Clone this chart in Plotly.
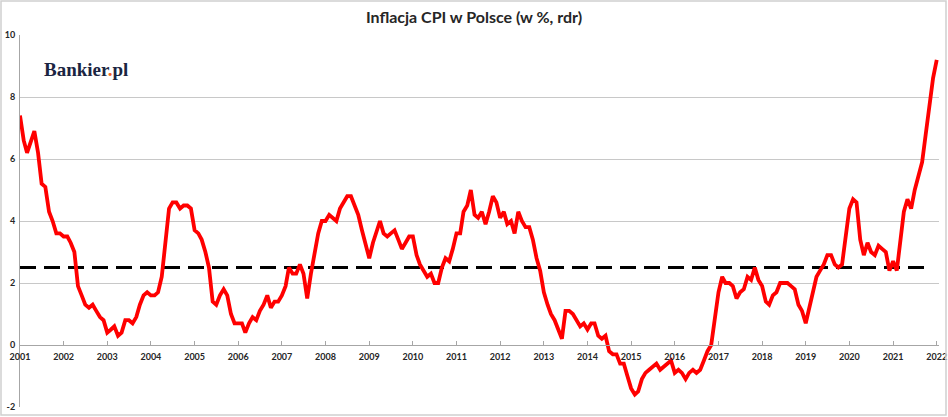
import pandas as pd
import plotly.graph_objects as go

title = "Inflacja CPI w Polsce (w %, rdr)"
start_month = "2001-01-01"

# CPI r/r, miesiecznie od stycznia 2001
cpi = [
    7.4, 6.6, 6.2, 6.6, 6.9, 6.2, 5.2, 5.1, 4.3, 4.0, 3.6, 3.6,      # 2001
    3.5, 3.5, 3.3, 3.0, 1.9, 1.6, 1.3, 1.2, 1.3, 1.1, 0.9, 0.8,      # 2002
    0.4, 0.5, 0.6, 0.3, 0.4, 0.8, 0.8, 0.7, 0.9, 1.3, 1.6, 1.7,      # 2003
    1.6, 1.6, 1.7, 2.2, 3.4, 4.4, 4.6, 4.6, 4.4, 4.5, 4.5, 4.4,      # 2004
    3.7, 3.6, 3.4, 3.0, 2.5, 1.4, 1.3, 1.6, 1.8, 1.6, 1.0, 0.7,      # 2005
    0.7, 0.7, 0.4, 0.7, 0.9, 0.8, 1.1, 1.3, 1.6, 1.2, 1.4, 1.4,      # 2006
    1.6, 1.9, 2.5, 2.3, 2.3, 2.6, 2.3, 1.5, 2.3, 3.0, 3.6, 4.0,      # 2007
    4.0, 4.2, 4.1, 4.0, 4.4, 4.6, 4.8, 4.8, 4.5, 4.2, 3.7, 3.3,      # 2008
    2.8, 3.3, 3.6, 4.0, 3.6, 3.5, 3.6, 3.7, 3.4, 3.1, 3.3, 3.5,      # 2009
    3.5, 2.9, 2.6, 2.4, 2.2, 2.3, 2.0, 2.0, 2.5, 2.8, 2.7, 3.1,      # 2010
    3.6, 3.6, 4.3, 4.5, 5.0, 4.2, 4.1, 4.3, 3.9, 4.3, 4.8, 4.6,      # 2011
    4.1, 4.3, 3.9, 4.0, 3.6, 4.3, 4.0, 3.8, 3.8, 3.4, 2.8, 2.4,      # 2012
    1.7, 1.3, 1.0, 0.8, 0.5, 0.2, 1.1, 1.1, 1.0, 0.8, 0.6, 0.7,      # 2013
    0.5, 0.7, 0.7, 0.3, 0.2, 0.3, -0.2, -0.3, -0.3, -0.6, -0.6, -1.0,  # 2014
    -1.4, -1.6, -1.5, -1.1, -0.9, -0.8, -0.7, -0.6, -0.8, -0.7, -0.6, -0.5,  # 2015
    -0.9, -0.8, -0.9, -1.1, -0.9, -0.8, -0.9, -0.8, -0.5, -0.2, 0.0, 0.8,  # 2016
    1.7, 2.2, 2.0, 2.0, 1.9, 1.5, 1.7, 1.8, 2.2, 2.1, 2.5, 2.1,      # 2017
    1.9, 1.4, 1.3, 1.6, 1.7, 2.0, 2.0, 2.0, 1.9, 1.8, 1.3, 1.1,      # 2018
    0.7, 1.2, 1.7, 2.2, 2.4, 2.6, 2.9, 2.9, 2.6, 2.5, 2.6, 3.4,      # 2019
    4.4, 4.7, 4.6, 3.4, 2.9, 3.3, 3.0, 2.9, 3.2, 3.1, 3.0, 2.4,      # 2020
    2.7, 2.4, 3.2, 4.3, 4.7, 4.4, 5.0, 5.5, 5.9, 6.8, 7.8, 8.6,      # 2021
    9.2,                                                             # 2022
]

# cel inflacyjny NBP
target = 2.5
target_end = "2021-10-01"

y_ticks = [-2, 0, 2, 4, 6, 8, 10]
y_labels = [str(v) for v in y_ticks]  # zwykly minus jak w Excelu

months = pd.date_range(start_month, periods=len(cpi), freq="MS")
target_months = pd.date_range(start_month, target_end, freq="MS")

fig = go.Figure()
fig.add_trace(go.Scatter(
    x=target_months, y=[target] * len(target_months), mode="lines",
    line=dict(color="black", width=3, dash="16px,8px"),
    hoverinfo="skip",
))
fig.add_trace(go.Scatter(
    x=months, y=cpi, mode="lines",
    line=dict(color="#ff0000", width=3.8),
))

tick_font = dict(family="Lato", size=9, color="#262626", weight="bold")

fig.update_layout(
    width=948, height=417,
    margin=dict(l=20, r=9, t=35, b=10),
    paper_bgcolor="white", plot_bgcolor="white",
    showlegend=False,
    title=dict(text=title, x=0.5, xanchor="center", y=0.958, yanchor="middle",
               font=dict(family="Lato", size=16, color="#262626", weight="bold")),
    xaxis=dict(
        type="date", range=["2001-01-01", "2022-01-20"],
        dtick="M12", tick0="2001-01-01", tickformat="%Y",
        anchor="free", position=1 / 6, automargin=False,
        showline=True, linecolor="#a6a6a6", linewidth=1,
        ticks="inside", ticklen=4, tickcolor="#a6a6a6",
        ticklabelstandoff=3,
        showgrid=False, tickfont=tick_font,
    ),
    yaxis=dict(
        range=[-2, 10], tickvals=y_ticks, ticktext=y_labels,
        automargin=False,
        showgrid=True, gridcolor="#c8c8c8", gridwidth=1,
        zeroline=False, showline=True, linecolor="#a6a6a6",
        ticks="", tickfont=tick_font, ticklabelstandoff=2,
    ),
    annotations=[dict(
        text="Bankier<span style='color:#f26522'>.</span>pl",
        xref="paper", yref="paper", x=(42 - 20) / 919, y=(407 - 69) / 372,
        xanchor="left", yanchor="middle", showarrow=False,
        font=dict(family="Liberation Serif", size=19, color="#1b2542", weight="bold"),
    )],
    shapes=[dict(
        type="rect", xref="paper", yref="paper",
        x0=(1 - 20) / 919, x1=(946 - 20) / 919,
        y0=(407 - 415) / 372, y1=(407 - 1) / 372,
        line=dict(color="#d0d0d0", width=1.5),
    )],
)

# strona bez domyslnego marginesu 8px, zeby wykres zajal cale okno
fig.write_html("out.html", config={"displayModeBar": False},
               post_script="document.body.style.margin='0';document.body.style.overflow='hidden';")
